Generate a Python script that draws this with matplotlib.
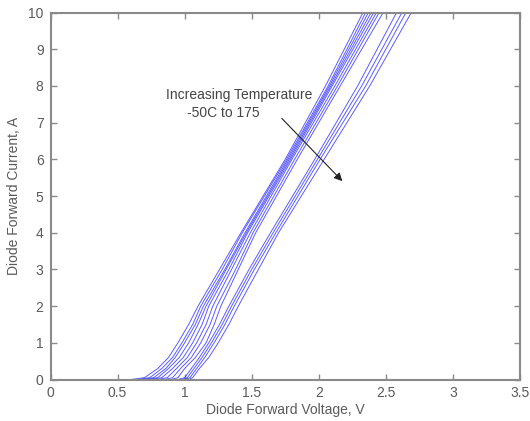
import matplotlib
matplotlib.use("Agg")
import matplotlib.pyplot as plt

plt.rcParams['font.family'] = ['Liberation Sans', 'DejaVu Sans']

# Current levels (A) at which voltages were read for each curve
current_levels = [0, 0.05, 0.3, 0.6, 1, 1.5, 2, 3, 4, 6, 8, 10]

# Left group of curves (lower temperatures), voltage (V) at each current level
left_group_v = [
    [0.60, 0.70, 0.80, 0.88, 0.95, 1.03, 1.10, 1.26, 1.42, 1.75, 2.05, 2.33],
    [0.65, 0.74, 0.83, 0.91, 0.98, 1.06, 1.12, 1.28, 1.43, 1.76, 2.07, 2.35],
    [0.68, 0.77, 0.86, 0.93, 1.00, 1.08, 1.14, 1.30, 1.45, 1.77, 2.08, 2.37],
    [0.72, 0.80, 0.88, 0.96, 1.03, 1.10, 1.16, 1.31, 1.46, 1.78, 2.09, 2.39],
    [0.75, 0.83, 0.91, 0.99, 1.06, 1.13, 1.18, 1.33, 1.47, 1.79, 2.10, 2.41],
    [0.80, 0.87, 0.94, 1.02, 1.09, 1.16, 1.21, 1.35, 1.49, 1.80, 2.12, 2.43],
    [0.85, 0.91, 0.97, 1.05, 1.12, 1.19, 1.24, 1.38, 1.51, 1.82, 2.14, 2.45],
    [0.90, 0.95, 1.00, 1.08, 1.16, 1.22, 1.27, 1.40, 1.53, 1.84, 2.16, 2.48],
]

# Right group of curves (higher temperatures)
right_group_v = [
    [0.95, 1.00, 1.05, 1.11, 1.18, 1.26, 1.33, 1.48, 1.64, 1.97, 2.29, 2.58],
    [0.98, 1.02, 1.07, 1.13, 1.20, 1.28, 1.35, 1.50, 1.66, 1.99, 2.32, 2.62],
    [1.00, 1.04, 1.09, 1.15, 1.22, 1.30, 1.37, 1.52, 1.68, 2.01, 2.35, 2.65],
    [1.03, 1.06, 1.11, 1.18, 1.25, 1.33, 1.40, 1.55, 1.70, 2.04, 2.38, 2.69],
]

x_ticks = [0, 0.5, 1, 1.5, 2, 2.5, 3, 3.5]
x_tick_labels = ['0', '0.5', '1', '1.5', '2', '2.5', '3', '3.5']
y_ticks = list(range(0, 11))

fig = plt.figure(figsize=(5.30, 4.21), dpi=100)
ax = fig.add_axes([50.5 / 530, 41.5 / 421, 469.5 / 530, 367 / 421])

line_color = (0.2, 0.2, 1.0)
for v in left_group_v + right_group_v:
    ax.plot([0] + v, [0] + current_levels, color=line_color, lw=0.7, alpha=0.8)

ax.set_xlim(0, 3.5)
ax.set_ylim(0, 10)
ax.set_xticks(x_ticks)
ax.set_xticklabels(x_tick_labels)
ax.set_yticks(y_ticks)

grey = '#8a8a8a'
for s in ax.spines.values():
    s.set_color(grey)
    s.set_linewidth(1.5)
ax.tick_params(direction='in', length=4, width=1.0, colors=grey,
               top=True, right=True, labelsize=10, labelcolor='#5a5a5a', pad=5)

ax.set_xlabel('Diode Forward Voltage, V', fontsize=10, color='#5a5a5a', labelpad=2)
ax.set_ylabel('Diode Forward Current, A', fontsize=10, color='#5a5a5a', labelpad=5)

ax.text(0.86, 7.74, 'Increasing Temperature', fontsize=10, color='#444444',
        ha='left', va='center')
ax.text(1.02, 7.25, '-50C to 175', fontsize=10, color='#444444',
        ha='left', va='center')
ax.annotate('', xy=(2.19, 5.35), xytext=(1.71, 7.17),
            arrowprops=dict(arrowstyle='-|>', color='#222222', lw=0.8,
                            mutation_scale=12))

fig.savefig('out.png', dpi=100)
